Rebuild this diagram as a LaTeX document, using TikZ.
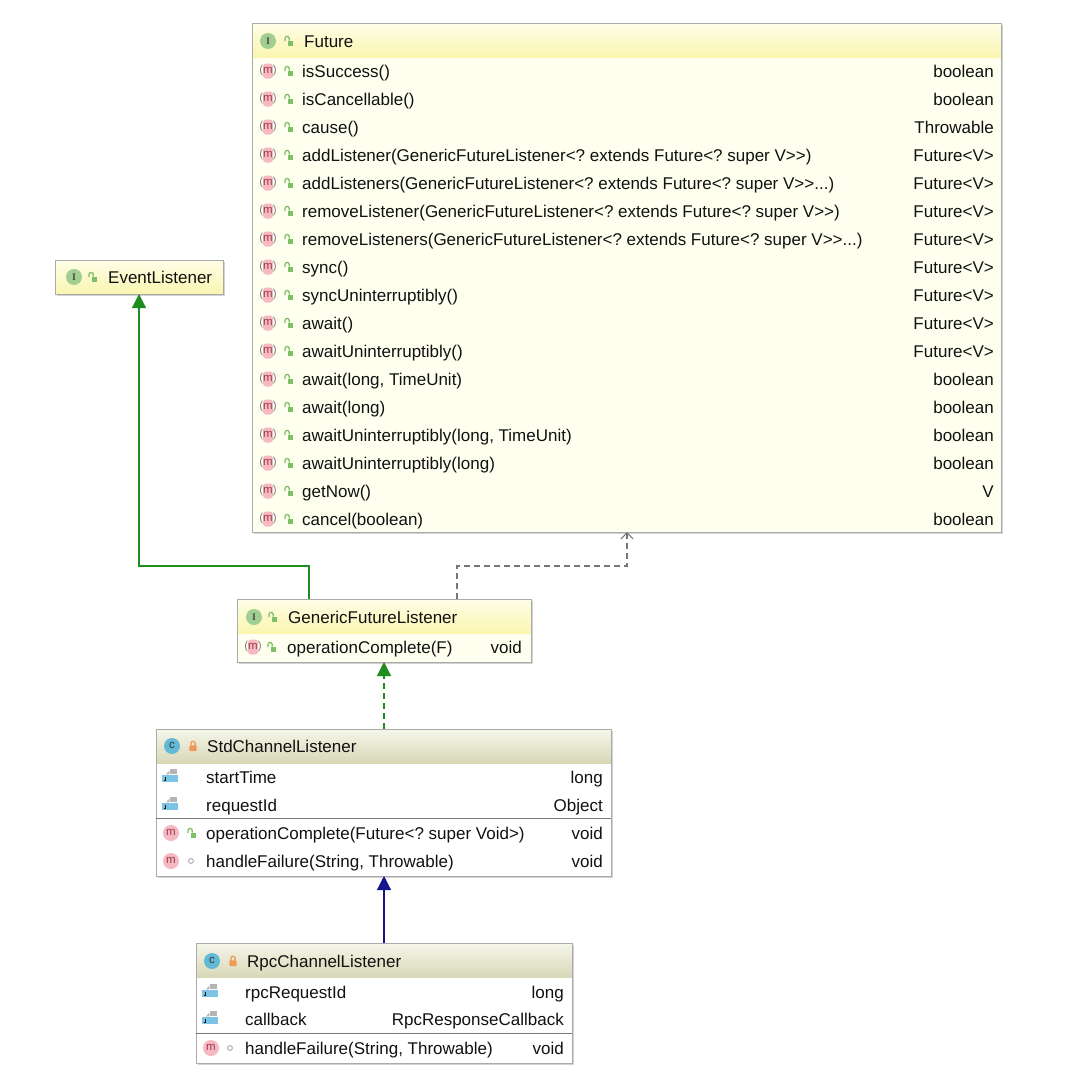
\documentclass[tikz,border=0pt]{standalone}
\usepackage{fontspec}
\setmainfont{Liberation Sans}
\newfontfamily\iconserif{Liberation Serif}
\usetikzlibrary{arrows.meta,calc,fit}
\frenchspacing
\definecolor{ihtop}{HTML}{FEFEE8}
\definecolor{ihbot}{HTML}{FAF6B0}
\definecolor{ibody}{HTML}{FFFFF0}
\definecolor{chtop}{HTML}{F6F6EA}
\definecolor{chbot}{HTML}{D8D8B8}
\definecolor{bordc}{HTML}{ABABAB}
\definecolor{shadc}{HTML}{D2D2D2}
\definecolor{sepc}{HTML}{7A7A7A}
\definecolor{inhgreen}{HTML}{1E8C1E}
\definecolor{navyc}{HTML}{14148C}
\definecolor{dashgrey}{HTML}{777777}
\definecolor{igreen}{HTML}{A2CE92}
\definecolor{lockg}{HTML}{7FBF66}
\definecolor{lockor}{HTML}{EE9955}
\definecolor{mpink}{HTML}{F6B8C2}
\definecolor{mletter}{HTML}{9A3A4A}
\definecolor{cblue}{HTML}{62BAD6}
\definecolor{fblue}{HTML}{7CC4E6}
\definecolor{fgrey}{HTML}{B4B4B4}
\definecolor{txt}{HTML}{111111}
\newcounter{icn}
\newcommand{\mf}{\fontsize{17}{20}\selectfont}
\newcommand{\icfont}{\fontsize{11.5}{12}\selectfont}
\newcommand{\tdots}{.{}.{}.}
\newcommand{\icI}[2]{\begin{scope}[shift={(#1,#2)}]\fill[igreen] (0,0) circle[radius=8];\stepcounter{icn}\node[inner sep=0,font=\iconserif\bfseries\fontsize{10}{10}\selectfont,text=txt!75] (ic\theicn) at (0,0.3) {I};\end{scope}}
\newcommand{\icC}[2]{\begin{scope}[shift={(#1,#2)}]\fill[cblue] (0,0) circle[radius=8];\stepcounter{icn}\node[inner sep=0,font=\icfont,text=txt!85] (ic\theicn) at (0,-0.5) {c};\end{scope}}
\newcommand{\icM}[2]{\begin{scope}[shift={(#1,#2)}]\fill[mpink] (0,0) circle[radius=8];\stepcounter{icn}\node[inner sep=0,font=\icfont,text=mletter] (ic\theicn) at (0,-0.5) {m};\end{scope}}
\newcommand{\icAM}[2]{\begin{scope}[shift={(#1,#2)}]\fill[mpink,rounded corners=3] (-5,-7.5) rectangle (5,7.5);\stepcounter{icn}\node[inner sep=0,font=\icfont,text=gray] (ic\theicn) at (0,-0.3) {(\textcolor{mletter}{m})};\end{scope}}
\newcommand{\icLG}[2]{\begin{scope}[shift={(#1,#2)}]\draw[lockg,line width=1.3pt] (-4,0) -- (-4,-2.5) arc[start angle=180,end angle=360,radius=2.1] -- (0.2,-0.5);\fill[lockg] (-1.2,-0.5) rectangle (4.3,4.6);\end{scope}}
\newcommand{\icLO}[2]{\begin{scope}[shift={(#1,#2)}]\draw[lockor,line width=1.3pt] (-2.1,0) -- (-2.1,-2.6) arc[start angle=180,end angle=360,radius=2.1] -- (2.1,0);\fill[lockor,rounded corners=0.8] (-3.6,-0.6) rectangle (3.6,5);\end{scope}}
\newcommand{\icF}[2]{\begin{scope}[shift={(#1,#2)}]\fill[fblue] (-8,-2) rectangle (8,5);\fill[fgrey] (0,-8) rectangle (6.5,-2.6);\fill[fgrey] (-4,-2.6) -- (-0.6,-2.6) -- (-0.6,-6.5) -- cycle;\draw[txt,line width=0.8pt] (-4.5,-0.5) -- (-4.5,3) -- (-6.5,3);\end{scope}}
\newcommand{\icD}[2]{\draw[gray!75,line width=0.8pt] (#1,#2) circle[radius=2.4];}
\tikzset{
  lt/.style={anchor=base west,inner sep=0,font=\mf,text=txt},
  rt/.style={anchor=base east,inner sep=0,font=\mf,text=txt},
  frame/.style={draw=bordc,line width=0.9pt,inner sep=0,outer sep=0},
  ihead/.style={top color=ihtop,bottom color=ihbot},
  chead/.style={top color=chtop,bottom color=chbot},
  sepline/.style={draw=sepc,line width=1.2pt},
  inh/.style={draw=inhgreen,line width=1.2pt,-{Triangle[length=14pt,width=14pt]}},
  impl/.style={draw=inhgreen,line width=1.2pt,dash pattern=on 6pt off 4pt,-{Triangle[length=14pt,width=14pt,fill=inhgreen]}},
  dep/.style={draw=dashgrey,line width=1.1pt,dash pattern=on 6pt off 4pt,-{Straight Barb[length=6pt,width=12pt,line width=1.1pt]}},
  cinh/.style={draw=navyc,line width=1.2pt,-{Triangle[length=14pt,width=14pt]}}
}
\begin{document}
\begin{tikzpicture}[x=1pt,y=-1pt]
\useasboundingbox[fill=white] (0,0) rectangle (1078,1072);
% ---------- Future ----------
\fill[shadc] (253.5,24.5) rectangle (1003,534);
\fill[ibody] (252,57) rectangle (1001,532);
\shade[ihead] (252,23) rectangle (1001,57);
\node[frame,fit={(252,23) (1001,532)}] (future) {};
\icI{268}{41}\icLG{289}{41}
\node[lt] (futuret) at (304,47) {Future};
\foreach \t/\r [count=\i from 0] in {isSuccess()/boolean,isCancellable()/boolean,cause()/Throwable,addListener(GenericFutureListener<? extends Future<? super V>{}>)/Future<V>,addListeners(GenericFutureListener<? extends Future<? super V>{}>\tdots)/Future<V>,removeListener(GenericFutureListener<? extends Future<? super V>{}>)/Future<V>,removeListeners(GenericFutureListener<? extends Future<? super V>{}>\tdots)/Future<V>,sync()/Future<V>,syncUninterruptibly()/Future<V>,await()/Future<V>,awaitUninterruptibly()/Future<V>,{await(long, TimeUnit)}/boolean,await(long)/boolean,{awaitUninterruptibly(long, TimeUnit)}/boolean,awaitUninterruptibly(long)/boolean,getNow()/V,cancel(boolean)/boolean}{
  \pgfmathsetmacro\yy{71+28*\i}
  \icAM{268}{\yy}\icLG{289}{\yy}
  \node[lt] (fa\i) at (302,\yy+6) {\t};
  \node[rt] (fb\i) at (994,\yy+6) {\r};
}
% ---------- EventListener ----------
\fill[shadc] (56.5,261.5) rectangle (224.5,295.5);
\shade[ihead] (55,260) rectangle (223,294);
\node[frame,fit={(55,260) (223,294)}] (evl) {};
\icI{74}{277}\icLG{93}{277}
\node[lt] (evlt) at (108,283) {EventListener};
% ---------- GenericFutureListener ----------
\fill[shadc] (238.5,600.5) rectangle (533,664);
\fill[ibody] (237,633) rectangle (531,662);
\shade[ihead] (237,599) rectangle (531,633);
\node[frame,fit={(237,599) (531,662)}] (gfl) {};
\icI{254}{617}\icLG{273}{617}
\node[lt] (gflt) at (288,623) {GenericFutureListener};
\icAM{253}{647}\icLG{272}{647}
\node[lt] (gfla) at (287,653) {operationComplete(F)};
\node[rt] (gflb) at (522,653) {void};
% ---------- StdChannelListener ----------
\fill[shadc] (157.5,730.5) rectangle (613,878);
\fill[white] (156,763) rectangle (611,876);
\shade[chead] (156,729) rectangle (611,763);
\node[frame,fit={(156,729) (611,876)}] (std) {};
\draw[sepline] (156,818.5) -- (611,818.5);
\icC{172}{746}\icLO{193}{746}
\node[lt] (stdt) at (207,752) {StdChannelListener};
\icF{170}{777}
\node[lt] (stda1) at (206,783) {startTime};
\node[rt] (stdb1) at (603,783) {long};
\icF{170}{805}
\node[lt] (stda2) at (206,811) {requestId};
\node[rt] (stdb2) at (603,811) {Object};
\icM{171}{833}\icLG{192}{833}
\node[lt] (stda3) at (206,839) {operationComplete(Future<? super Void>)};
\node[rt] (stdb3) at (603,839) {void};
\icM{171}{861}\icD{191}{861}
\node[lt] (stda4) at (206,867) {handleFailure(String, Throwable)};
\node[rt] (stdb4) at (603,867) {void};
% ---------- RpcChannelListener ----------
\fill[shadc] (197.5,944.5) rectangle (574,1065);
\fill[white] (196,977) rectangle (572,1063);
\shade[chead] (196,943) rectangle (572,977);
\node[frame,fit={(196,943) (572,1063)}] (rpc) {};
\draw[sepline] (196,1033.5) -- (572,1033.5);
\icC{212}{961}\icLO{233}{961}
\node[lt] (rpct) at (247,967) {RpcChannelListener};
\icF{210}{992}
\node[lt] (rpca1) at (245,998) {rpcRequestId};
\node[rt] (rpcb1) at (564,998) {long};
\icF{210}{1019}
\node[lt] (rpca2) at (245,1025) {callback};
\node[rt] (rpcb2) at (564,1025) {RpcResponseCallback};
\icM{211}{1048}\icD{230}{1048}
\node[lt] (rpca3) at (245,1054) {handleFailure(String, Throwable)};
\node[rt] (rpcb3) at (564,1054) {void};
% ---------- connectors ----------
\draw[inh,-{Triangle[length=14pt,width=14pt,fill=inhgreen]}] ($(gfl.north west)+(72,0)$) -- ++(0,-33) -| (evl.south);
\draw[dep] ($(gfl.north west)+(220,0)$) -- ++(0,-33) -| ($(future.south west)+(375,0)$);
\draw[impl] (std.north -| gfl.south) -- (gfl.south);
\draw[cinh,-{Triangle[length=14pt,width=14pt,fill=navyc]}] (rpc.north) -- (std.south -| rpc.north);
\end{tikzpicture}
\end{document}
